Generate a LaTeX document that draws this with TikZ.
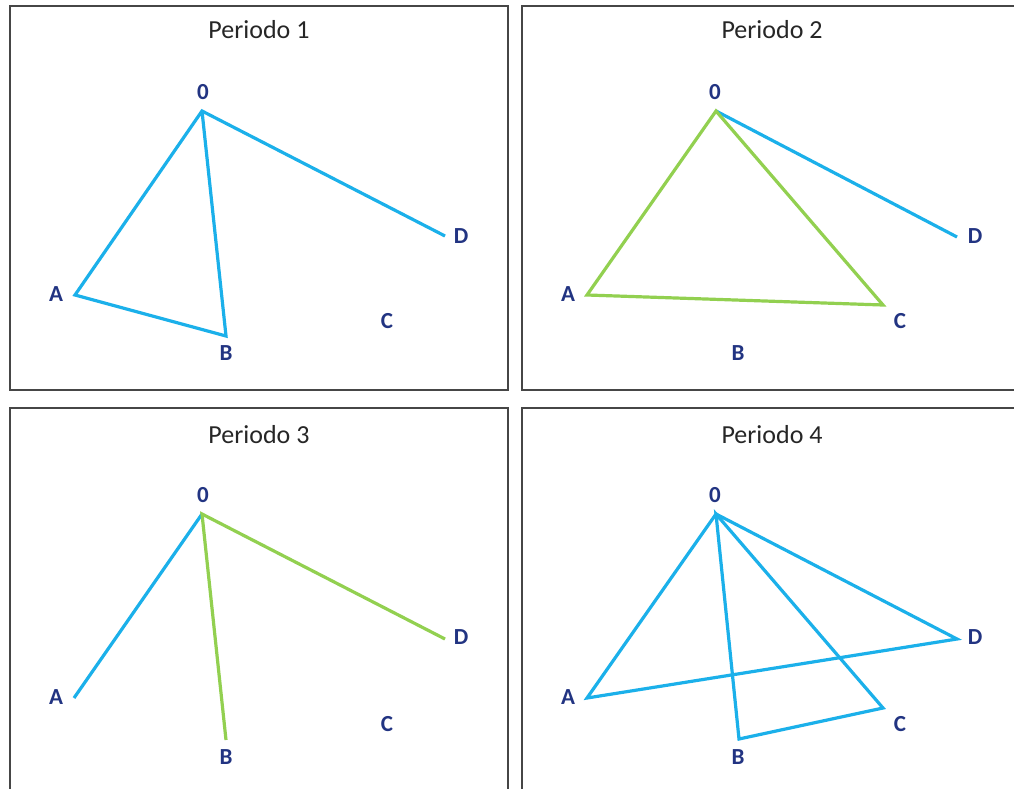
\documentclass[tikz,border=0pt]{standalone}
\usepackage{fontspec}
\setmainfont{Carlito}
\definecolor{lineblue}{RGB}{27,176,234}
\definecolor{linegreen}{RGB}{146,208,80}
\definecolor{labelblue}{RGB}{34,52,130}
\definecolor{framegray}{RGB}{70,70,70}
\tikzset{
  panelbox/.style={draw=framegray, line width=1.4pt},
  ptitle/.style={font=\fontsize{26}{30}\selectfont, text=black!85, anchor=base, inner sep=0pt},
  plabel/.style={font=\fontsize{23}{26}\selectfont\bfseries, text=labelblue, inner sep=0pt},
  blueedge/.style={draw=lineblue, line width=3.2pt},
  greenedge/.style={draw=linegreen, line width=3.2pt},
}
\begin{document}
\begin{tikzpicture}[x=1pt,y=-1pt]
\useasboundingbox (0,0) rectangle (1014,789);
\clip (0,0) rectangle (1014,789);
\fill[white] (0,0) rectangle (1014,789);
% frames
\draw[panelbox] (10,6) rectangle (508,390);
\draw[panelbox] (522,6) rectangle (1030,390);
\draw[panelbox] (10,408) rectangle (508,810);
\draw[panelbox] (522,408) rectangle (1030,810);
% titles
\node[ptitle] (t1) at (259,39) {Periodo 1};
\node[ptitle] (t2) at (772,39) {Periodo 2};
\node[ptitle] (t3) at (259,443) {Periodo 3};
\node[ptitle] (t4) at (772,443) {Periodo 4};
% ---------- Panel 1 ----------
\coordinate (aO) at (202,111);
\coordinate (aA) at (75,295);
\coordinate (aB) at (226,336);
\coordinate (aD) at (445,236);
\draw[blueedge, line join=miter] (aD) -- (aO) -- (aA) -- (aB) -- (aO);
\node[plabel] (la0) at (203,92) {0};
\node[plabel] (laA) at (56,294) {A};
\node[plabel] (laB) at (226,353) {B};
\node[plabel] (laC) at (387,321) {C};
\node[plabel] (laD) at (461,236) {D};
% ---------- Panel 2 ----------
\coordinate (bO) at (716,111);
\coordinate (bA) at (587,295);
\coordinate (bC) at (883,305);
\coordinate (bD) at (957,237);
\draw[blueedge] (bO) -- (bD);
\draw[greenedge, line join=miter] (bO) -- (bA) -- (bC) -- cycle;
\node[plabel] (lb0) at (715,92) {0};
\node[plabel] (lbA) at (568,294) {A};
\node[plabel] (lbB) at (738,353) {B};
\node[plabel] (lbC) at (900,321) {C};
\node[plabel] (lbD) at (975,236) {D};
% ---------- Panel 3 ----------
\coordinate (cO) at (202,514);
\coordinate (cA) at (74,698);
\coordinate (cB) at (226,740);
\coordinate (cD) at (445,639);
\draw[blueedge] (cO) -- (cA);
\draw[greenedge, line join=miter] (cB) -- (cO) -- (cD);
\node[plabel] (lc0) at (203,495) {0};
\node[plabel] (lcA) at (56,697) {A};
\node[plabel] (lcB) at (226,757) {B};
\node[plabel] (lcC) at (387,724) {C};
\node[plabel] (lcD) at (461,637) {D};
% ---------- Panel 4 ----------
\coordinate (dO) at (716,514);
\coordinate (dA) at (587,698);
\coordinate (dB) at (739,739);
\coordinate (dC) at (883,708);
\coordinate (dD) at (957,639);
\draw[blueedge, line join=miter] (dO) -- (dA) -- (dD) -- cycle;
\draw[blueedge, line join=miter] (dO) -- (dB) -- (dC) -- cycle;
\node[plabel] (ld0) at (715,495) {0};
\node[plabel] (ldA) at (568,697) {A};
\node[plabel] (ldB) at (738,757) {B};
\node[plabel] (ldC) at (900,724) {C};
\node[plabel] (ldD) at (975,637) {D};
\end{tikzpicture}
\end{document}
